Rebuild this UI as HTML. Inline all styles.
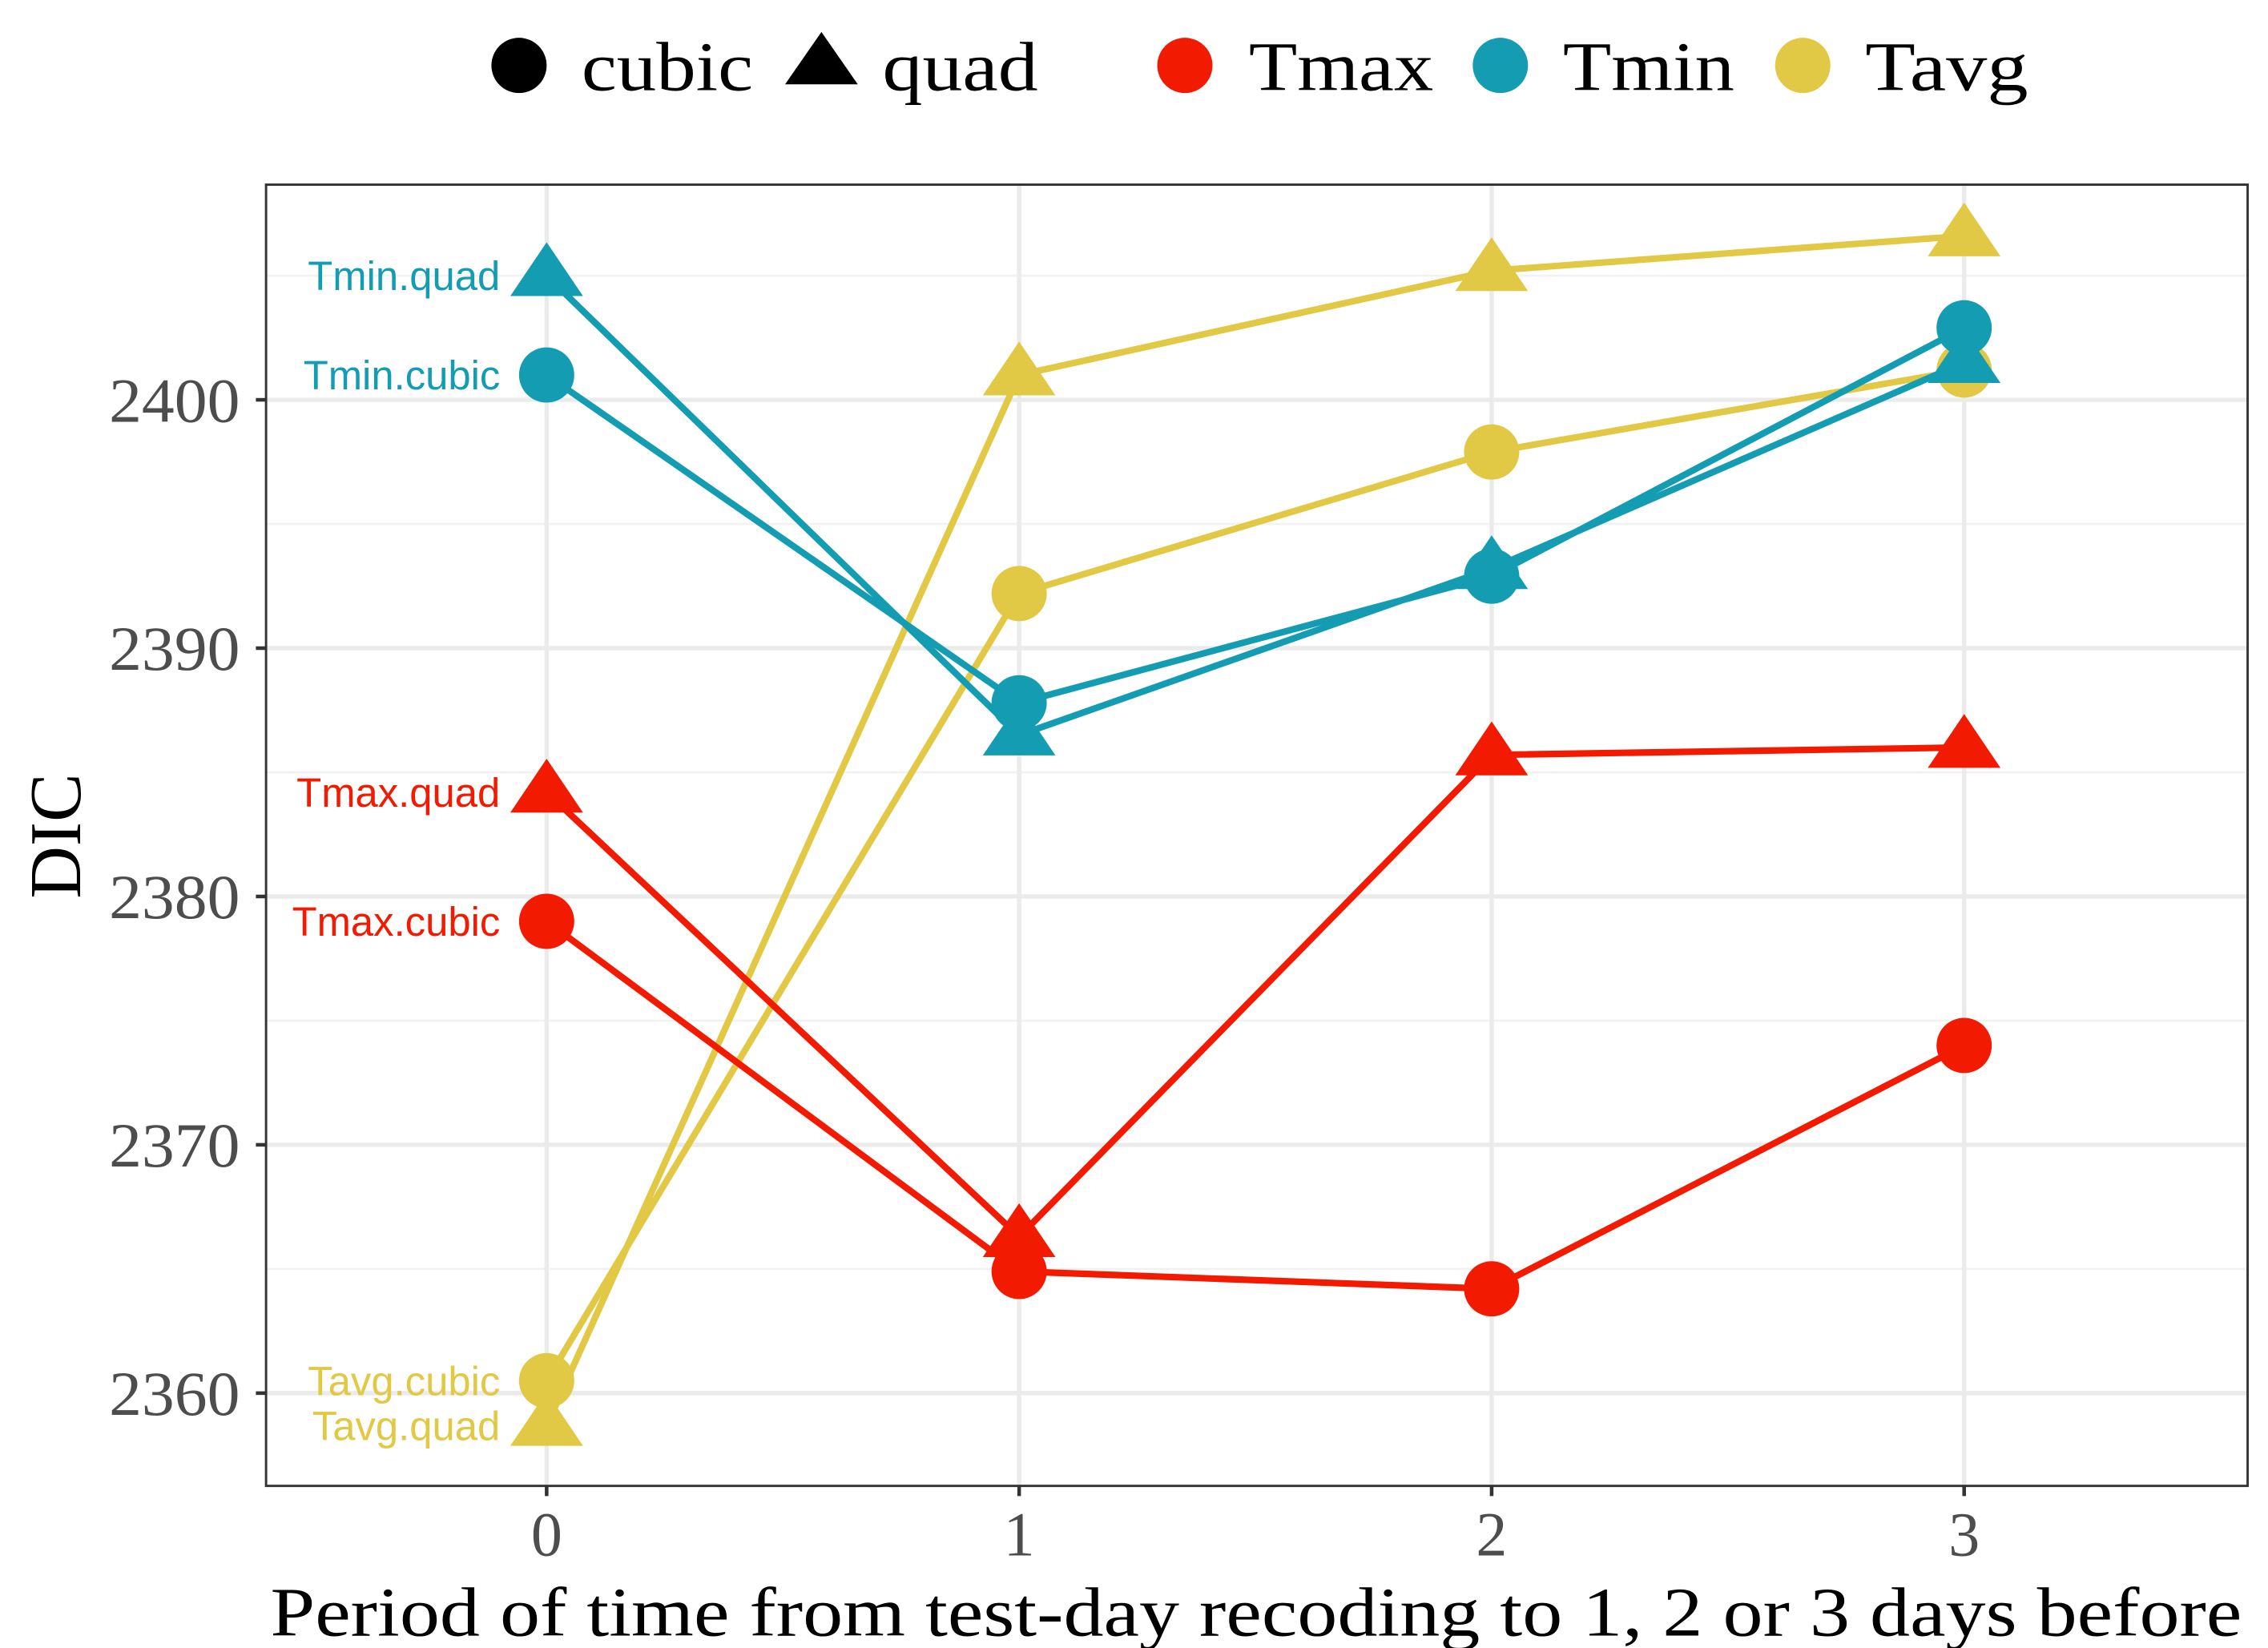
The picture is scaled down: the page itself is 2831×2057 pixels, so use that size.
<!DOCTYPE html>
<html><head><meta charset="utf-8"><style>
html,body{margin:0;padding:0;background:#fff}
svg{display:block}
</style></head><body>
<svg id="chart" xmlns="http://www.w3.org/2000/svg" width="2831" height="2057" viewBox="0 0 1560 1133.5">
<g id="grid"></g>
<g id="series"></g>
<g id="labels"></g>
<g id="axes"></g>
<g font-family="Liberation Serif, serif" font-size="48" fill="#000">
  <circle cx="357" cy="45" r="19" fill="#000"/>
  <text x="400" y="62" textLength="118" lengthAdjust="spacingAndGlyphs">cubic</text>
  <polygon points="565,22 590,58 540,58" fill="#000"/>
  <text x="607" y="62" textLength="107" lengthAdjust="spacingAndGlyphs">quad</text>
  <circle cx="815" cy="45" r="19" fill="#f21a00"/>
  <text x="859" y="62" textLength="127" lengthAdjust="spacingAndGlyphs">Tmax</text>
  <circle cx="1032" cy="45" r="19" fill="#139cb2"/>
  <text x="1075" y="62" textLength="118" lengthAdjust="spacingAndGlyphs">Tmin</text>
  <circle cx="1240" cy="45" r="19" fill="#e1c845"/>
  <text x="1283" y="62" textLength="112" lengthAdjust="spacingAndGlyphs">Tavg</text>
</g>
<text x="186" y="1125" font-family="Liberation Serif, serif" font-size="48" fill="#000" textLength="1356" lengthAdjust="spacingAndGlyphs">Period of time from test-day recoding to 1, 2 or 3 days before</text>
<text transform="translate(55,575) rotate(-90)" text-anchor="middle" font-family="Liberation Serif, serif" font-size="50" fill="#000">DIC</text>
</svg>
<script>
const categories = [0, 1, 2, 3];
const yTicks = [2360, 2370, 2380, 2390, 2400];
const yMinor = [2365, 2375, 2385, 2395, 2405];
const tminQuad = [2405, 2386.5, 2393.2, 2401.5];
const tminCubic = [2401, 2387.8, 2392.9, 2402.9];
const tavgQuad = [2358.7, 2401, 2405.2, 2406.6];
const tavgCubic = [2360.5, 2392.2, 2397.9, 2401.2];
const tmaxQuad = [2384.2, 2366.3, 2385.7, 2386];
const tmaxCubic = [2379, 2364.9, 2364.2, 2374];

const NS = 'http://www.w3.org/2000/svg';
const P = {l:183, r:1546, t:127, b:1022};
function xs(v){ return 376 + v*325; }
function ys(v){ return 275 - (v-2400)*17.08; }
function mk(tag, attrs, parent){
  const e = document.createElementNS(NS, tag);
  for (const k in attrs) e.setAttribute(k, attrs[k]);
  parent.appendChild(e); return e;
}
const grid = document.getElementById('grid');
const bg = mk('rect', {x:P.l, y:P.t, width:P.r-P.l, height:P.b-P.t, fill:'#fff'}, grid);


yMinor.forEach(v => {
  const l = mk('line', {x1:P.l, x2:P.r, y1:ys(v), y2:ys(v), stroke:'#f2f2f2', 'stroke-width':1.5}, grid);
  
  
});
yTicks.forEach(v => {
  const l = mk('line', {x1:P.l, x2:P.r, y1:ys(v), y2:ys(v), stroke:'#ebebeb', 'stroke-width':3}, grid);
  
  
});
categories.forEach(c => {
  const l = mk('line', {x1:xs(c), x2:xs(c), y1:P.t, y2:P.b, stroke:'#ebebeb', 'stroke-width':3}, grid);
  
  
});

const series = [
  {name:'tavg-quad', vals:tavgQuad, col:'#e1c845', shape:'tri', label:'Tavg.quad'},
  {name:'tavg-cubic', vals:tavgCubic, col:'#e1c845', shape:'circ', label:'Tavg.cubic'},
  {name:'tmax-quad', vals:tmaxQuad, col:'#f21a00', shape:'tri', label:'Tmax.quad'},
  {name:'tmax-cubic', vals:tmaxCubic, col:'#f21a00', shape:'circ', label:'Tmax.cubic'},
  {name:'tmin-quad', vals:tminQuad, col:'#139cb2', shape:'tri', label:'Tmin.quad'},
  {name:'tmin-cubic', vals:tminCubic, col:'#139cb2', shape:'circ', label:'Tmin.cubic'}
];
const sg = document.getElementById('series');
const lg = document.getElementById('labels');
series.forEach(s => {
  const g = mk('g', {}, sg);
  
  
  const pts = s.vals.map((v,i) => xs(categories[i]) + ',' + ys(v)).join(' ');
  const pl = mk('polyline', {points:pts, fill:'none', stroke:s.col, 'stroke-width':4.5, 'stroke-linejoin':'round'}, g);
  
  
  s.vals.forEach((v,i) => {
    const x = xs(categories[i]), y = ys(v);
    let m;
    if (s.shape === 'circ') m = mk('circle', {cx:x, cy:y, r:19, fill:s.col}, g);
    else m = mk('polygon', {points:`${x},${y-23} ${x+25},${y+14} ${x-25},${y+14}`, fill:s.col}, g);
    
    
  });
  const t = mk('text', {x:344, y:ys(s.vals[0])+10, 'text-anchor':'end', 'font-family':'Liberation Sans, sans-serif', 'font-size':28, fill:s.col}, lg);
  t.textContent = s.label;
  
  
});

const ax = document.getElementById('axes');
const border = mk('rect', {x:P.l, y:P.t, width:P.r-P.l, height:P.b-P.t, fill:'none', stroke:'#333', 'stroke-width':1.6}, ax);


yTicks.forEach(v => {
  const tk = mk('line', {x1:P.l-7, x2:P.l, y1:ys(v), y2:ys(v), stroke:'#333', 'stroke-width':2.5}, ax);
  
  
  const t = mk('text', {x:75, y:ys(v)+15, 'font-family':'Liberation Serif, serif', 'font-size':43, fill:'#4d4d4d', textLength:90, lengthAdjust:'spacingAndGlyphs'}, ax);
  t.textContent = v;
  
  
});
categories.forEach(c => {
  const tk = mk('line', {x1:xs(c), x2:xs(c), y1:P.b, y2:P.b+7, stroke:'#333', 'stroke-width':2.5}, ax);
  
  
  const t = mk('text', {x:xs(c), y:P.b+48, 'text-anchor':'middle', 'font-family':'Liberation Serif, serif', 'font-size':43, fill:'#4d4d4d'}, ax);
  t.textContent = c;
  
  
});
</script>
</body></html>
